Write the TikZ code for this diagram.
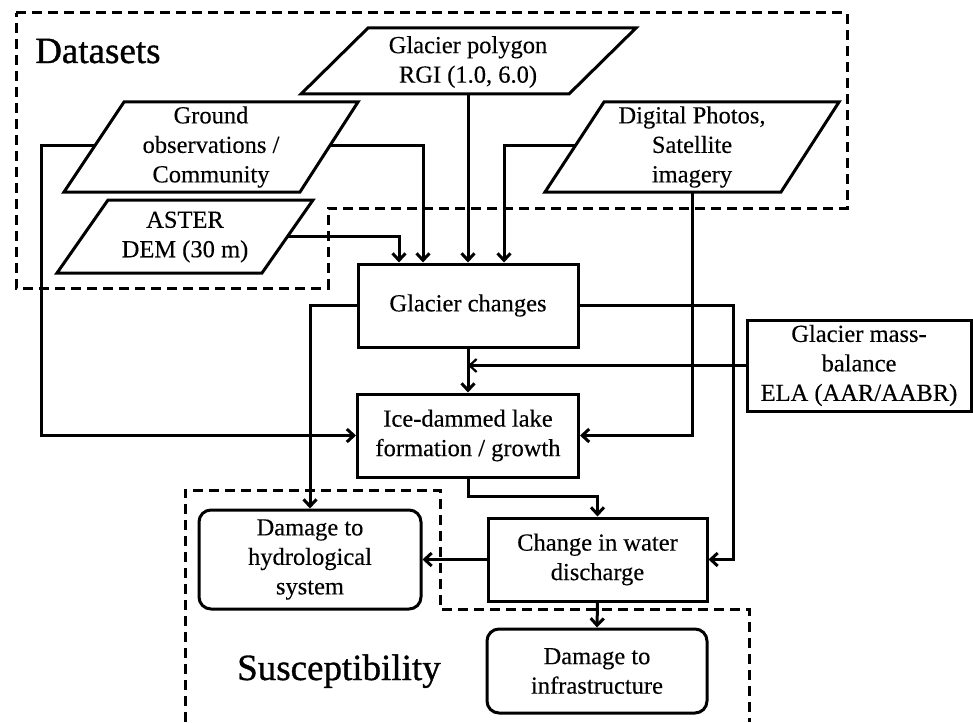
\documentclass[tikz,border=0pt]{standalone}
\usepackage{fontspec}
\setmainfont{Liberation Serif}[FakeBold=0.3]
\newfontfamily\headfont{Liberation Serif}[FakeBold=0.9]
\usetikzlibrary{arrows.meta,calc}
\begin{document}
\begin{tikzpicture}[x=1pt,y=-1pt,
  every node/.style={font=\fontsize{24.5}{29.5}\selectfont, align=center},
  txt/.style={inner sep=0pt},
  box/.style={draw, line width=3pt, fill=white, inner sep=0pt, outer sep=1.5pt},
  rbox/.style={box, rounded corners=12pt},
  para/.style={draw, line width=3pt, fill=white, line join=miter},
  conn/.style={line width=3pt},
  arr/.style={conn, -{Straight Barb[length=7pt,width=13pt]}},
  region/.style={line width=3pt, dash pattern=on 10pt off 6pt},
  head/.style={font=\headfont\fontsize{37}{44}\selectfont, inner sep=0pt}]
\useasboundingbox (0,0) rectangle (973,722);

% dashed regions
\draw[region] (16,13) -- (847,13) -- (847,208) -- (328,208) -- (328,288) -- (16,288) -- cycle;
\draw[region] (185,722) -- (185,490) -- (440,490) -- (440,609) -- (749,609) -- (749,722);

% headings
\node[head, anchor=base west] (hds) at (35,63) {Datasets};
\node[head, anchor=base west] (hsu) at (237,680) {Susceptibility};

% parallelogram datasets
\draw[para] (301,94) -- (368,28) -- (636,28) -- (569,94) -- cycle;
\node[txt] (gp) at (468,62) {Glacier polygon\\RGI (1.0, 6.0)};
\coordinate (gp-b) at (468,94);

\draw[para] (64,192) -- (124,102) -- (358,102) -- (300,192) -- cycle;
\node[txt] (go) at (211,147) {Ground\\observations /\\Community};
\coordinate (go-r) at (330,146);
\coordinate (go-l) at (95,146);

\draw[para] (57,273) -- (108,200) -- (313,200) -- (262,273) -- cycle;
\node[txt] (as) at (185,237) {ASTER\\DEM (30 m)};
\coordinate (as-r) at (288,236);

\draw[para] (545,192) -- (604,102) -- (839,102) -- (781,192) -- cycle;
\node[txt] (dp) at (692,147) {Digital Photos,\\Satellite\\imagery};
\coordinate (dp-l) at (575,146);
\coordinate (dp-b) at (692,192);

% process boxes
\node[box, minimum width=220pt, minimum height=83pt] (gc) at (468,305.5) {Glacier changes};
\node[box, minimum width=221pt, minimum height=83pt] (id) at (468,435.5) {Ice-dammed lake\\formation / growth};
\node[box, minimum width=224pt, minimum height=91pt] (mb) at (859,365.5) {Glacier mass-\\balance\\ELA (AAR/AABR)};
\node[box, minimum width=219pt, minimum height=83pt] (cw) at (597.5,559.5) {Change in water\\discharge};
\node[rbox, minimum width=220pt, minimum height=84pt] (di) at (597,671) {Damage to\\infrastructure};
\node[rbox, minimum width=222pt, minimum height=99pt] (dh) at (310,559.5) {Damage to\\hydrological\\system};

% connectors
\draw[arr] (gp-b) -- (gp-b |- gc.north);
\draw[arr] (go-r) -| ($(gc.north)+(-45,0)$);
\draw[arr] (as-r) -| ($(gc.north)+(-69,0)$);
\draw[arr] (dp-l) -| ($(gc.north)+(36,0)$);
\draw[arr] (go-l) -- ++(-54,0) |- (id.west);
\draw[arr] (dp-b) |- (id.east);
\draw[arr] (gc.south) -- (id.north);
\draw[arr, line width=2.2pt] (mb.west) -- (mb.west -| gc.south);
\draw[arr] (gc.west) -| (dh.north);
\draw[arr] (gc.east) -- ++(154,0) |- (cw.east);
\draw[arr] (id.south) |- ($(cw.north)+(0,-20)$) -- (cw.north);
\draw[arr] (cw.west) -- (dh.east);
\draw[arr] (cw.south) -- (di.north);
\end{tikzpicture}
\end{document}
